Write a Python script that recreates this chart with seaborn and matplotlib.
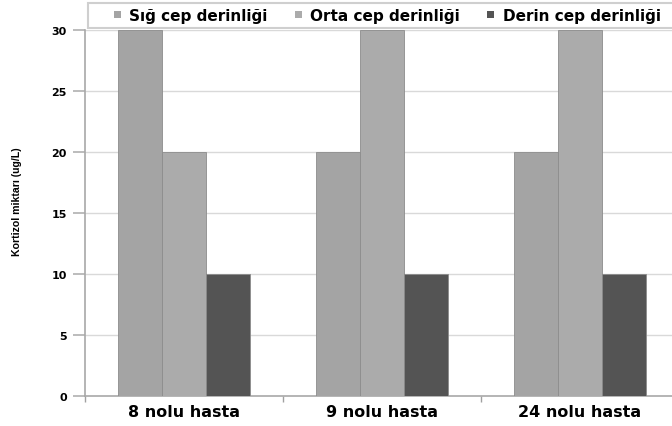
import matplotlib
matplotlib.use("Agg")
import matplotlib.pyplot as plt
from matplotlib.patches import Rectangle
import seaborn as sns
import pandas as pd

# Data
patients = ["8 nolu hasta", "9 nolu hasta", "24 nolu hasta"]
depths = ["Sığ cep derinliği", "Orta cep derinliği", "Derin cep derinliği"]
sig_values = [30, 20, 20]
orta_values = [20, 30, 30]
derin_values = [10, 10, 10]
y_ticks = [0, 5, 10, 15, 20, 25, 30]

df = pd.DataFrame({
    "hasta": patients * 3,
    "derinlik": [depths[0]] * 3 + [depths[1]] * 3 + [depths[2]] * 3,
    "deger": sig_values + orta_values + derin_values,
})

palette = {depths[0]: "#a4a4a4", depths[1]: "#ababab", depths[2]: "#545454"}

sns.set_style("ticks")
plt.rcParams["font.family"] = ["DejaVu Sans"]
plt.rcParams["text.color"] = "black"
plt.rcParams["xtick.color"] = "black"
plt.rcParams["ytick.color"] = "black"
plt.rcParams["axes.labelcolor"] = "black"

W, H = 672, 427
fig = plt.figure(figsize=(W / 100, H / 100), dpi=100)
ax = fig.add_axes([85 / W, 1 - 397 / H, 594 / W, (397 - 31) / H])

sns.barplot(data=df, x="hasta", y="deger", hue="derinlik", order=patients,
            hue_order=depths, palette=palette, width=0.667, gap=0,
            edgecolor="#8c8c8c", linewidth=0.6, saturation=1, ax=ax,
            legend=True, zorder=3)

ax.set_xlim(-0.5, 2.5)
ax.set_ylim(0, 30)
ax.set_yticks(y_ticks)
ax.set_yticklabels([str(v) for v in y_ticks], fontsize=8, fontweight="bold")
ax.grid(False)
# horizontal guide lines at each y tick
for v in y_ticks[1:]:
    ax.axhline(v, color="#d9d9d9", linewidth=1.0, zorder=1)

ax.set_xticks(range(len(patients)))
ax.set_xticklabels(patients, fontsize=11.5, fontweight="bold")
ax.set_xticks([-0.5, 0.5, 1.5, 2.5], minor=True)
ax.tick_params(axis="x", which="major", length=0, pad=6)
ax.tick_params(axis="x", which="minor", length=4, color="#a0a0a0", width=1,
               direction="out", bottom=True)
ax.tick_params(axis="y", which="major", length=9, color="#b0b0b0", width=1.2,
               direction="out", pad=4, left=True)

ax.set_xlabel("")
ax.set_ylabel("Kortizol miktarı (ug/L)", fontsize=7.6,
              family="Liberation Sans", fontweight="bold")
ax.yaxis.set_label_coords(-0.106, 0.535)

for side in ["top", "right"]:
    ax.spines[side].set_visible(False)
ax.spines["left"].set_color("#a8a8a8")
ax.spines["bottom"].set_color("#a8a8a8")
ax.spines["left"].set_linewidth(1.2)
ax.spines["bottom"].set_linewidth(1.2)

handles, labels = ax.get_legend_handles_labels()
ax.get_legend().remove()

fig.patches.append(Rectangle((88 / W, 1 - 29 / H), 610 / W, 25 / H,
                             transform=fig.transFigure, facecolor="white",
                             edgecolor="#cfcfcf", linewidth=1.5, zorder=5))
leg = fig.legend(handles, labels, loc="center left",
                 bbox_to_anchor=(106 / W, 1 - 16.5 / H), ncol=3, frameon=False,
                 borderpad=0, handlelength=0.45, handleheight=0.4,
                 handletextpad=0.55, columnspacing=1.8,
                 prop={"family": "DejaVu Sans", "weight": "bold", "size": 11})
leg.set_zorder(6)
for h in leg.legend_handles:
    h.set_edgecolor("none")

fig.savefig("out.png", dpi=100)
